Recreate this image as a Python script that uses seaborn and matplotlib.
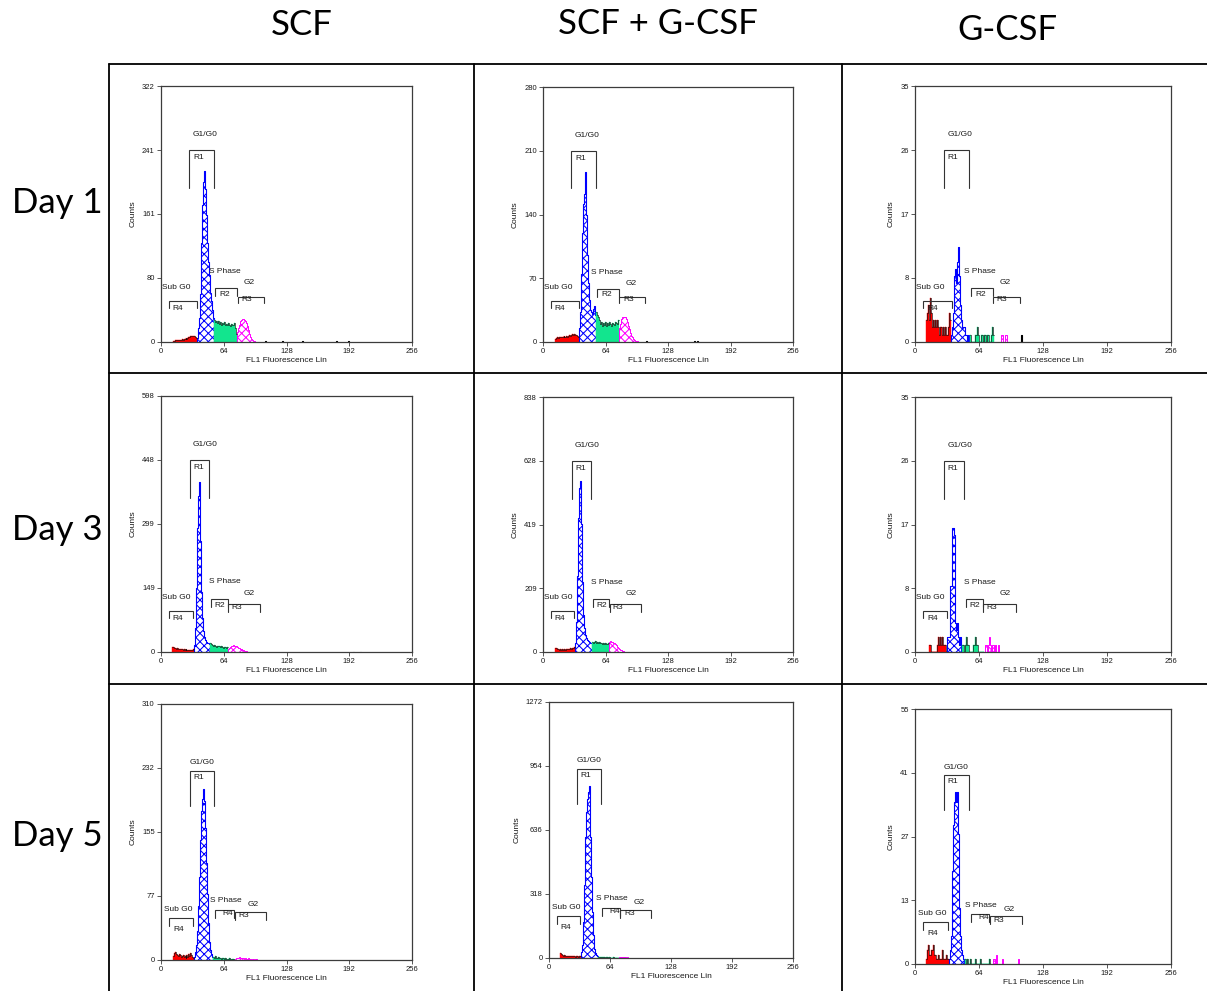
import numpy as np
import pandas as pd
import matplotlib
matplotlib.use("Agg")
import matplotlib.pyplot as plt
import matplotlib.transforms as mtransforms
from matplotlib.lines import Line2D
import seaborn as sns

# ---------------------------------------------------------------- data
treatments = ["SCF", "SCF + G-CSF", "G-CSF"]
days = ["Day 1", "Day 3", "Day 5"]
x_ticks = [0, 64, 128, 192, 256]

# full-scale count per panel (rows: days, columns: treatments)
y_max = [[322, 280, 35],
         [598, 838, 35],
         [310, 1272, 55]]
y_tick_labels = [[[0, 80, 161, 241, 322], [0, 70, 140, 210, 280], [0, 8, 17, 26, 35]],
                 [[0, 149, 299, 448, 598], [0, 209, 419, 628, 838], [0, 8, 17, 26, 35]],
                 [[0, 77, 155, 232, 310], [0, 318, 636, 954, 1272], [0, 13, 27, 41, 55]]]

# FL1 channel histograms: first channel, counts per channel,
# region edges [G1/G0 start, S start, G2 start, G2 end], stray events
start_d1_scf = 12
counts_d1_scf = [1, 1, 2, 2, 2, 3, 2, 3, 3, 4, 3, 4, 4, 5, 4, 5, 6, 6, 7, 7, 8, 8, 7, 6, 5,
                 5, 18, 30, 60, 125, 172, 201, 215, 193, 160, 125, 100, 84, 62, 52, 40, 30,
                 28, 25, 27, 24, 26, 23, 25, 22, 24, 23, 25, 22, 23, 21, 24, 22, 20, 23, 21, 22, 24, 18, 14, 10,
                 12, 17, 22, 26, 28, 29, 29, 28, 27, 24, 20, 15, 10, 6, 4, 2, 1, 1]
edges_d1_scf = [37, 54, 78, 100]
stray_d1_scf = [106, 123, 144, 178, 191]

start_d1_combo = 12
counts_d1_combo = [3, 4, 5, 4, 5, 6, 5, 6, 6, 7, 5, 6, 7, 6, 7, 8, 7, 8, 9, 8, 9, 8, 8, 7, 6,
                   15, 33, 75, 120, 152, 162, 187, 140, 95, 65, 46, 35, 33, 31, 36, 40, 30,
                   33, 30, 27, 24, 20, 22, 18, 21, 19, 22, 20, 18, 21, 19, 22, 20, 18, 21, 20, 19, 22, 21, 20, 24,
                   15, 20, 25, 27, 28, 28, 27, 25, 22, 18, 14, 10, 7, 5, 3, 2, 1, 1, 1]
edges_d1_combo = [37, 54, 78, 100]
stray_d1_combo = [105, 155, 158]

start_d1_gcsf = 11
counts_d1_gcsf = [3, 4, 5, 3, 6, 4, 2, 3, 2, 3, 2, 3, 2, 1, 2, 2, 1, 2, 1, 2, 1, 1, 2, 4, 3,
                  1, 2, 4, 9, 10, 8, 11, 13, 9, 5, 3, 2, 2, 2, 1, 1, 0, 1, 0,
                  1, 0, 0, 0, 0, 1, 1, 2, 1, 0, 0, 1, 1, 0, 1, 1, 0, 1, 1, 0, 0, 1, 2, 1,
                  0, 0, 0, 0, 0, 0, 0, 1, 1, 0, 0, 1, 1, 0, 0, 0, 0]
edges_d1_gcsf = [36, 55, 79, 100]
stray_d1_gcsf = [106]

start_d3_scf = 11
counts_d3_scf = [12, 11, 10, 9, 8, 9, 7, 8, 6, 7, 6, 5, 6, 5, 6, 4, 5, 4, 5, 4, 5, 5, 6,
                 17, 56, 150, 290, 365, 398, 260, 140, 80, 50, 36, 28, 24, 22, 20, 18,
                 20, 18, 16, 15, 17, 14, 12, 15, 13, 14, 11, 13, 12, 10, 12, 11, 10, 12,
                 8, 10, 12, 14, 15, 16, 15, 14, 14, 13, 12, 10, 9, 7, 6, 5, 4, 3, 2, 2, 1]
edges_d3_scf = [34, 50, 68, 100]
stray_d3_scf = [196, 203]

start_d3_combo = 12
counts_d3_combo = [14, 12, 10, 9, 8, 9, 8, 9, 8, 10, 9, 8, 10, 9, 11, 10, 12, 11, 13, 14, 16,
                   30, 100, 250, 440, 540, 562, 420, 230, 120, 80, 55, 46, 40, 36, 33, 30, 28,
                   32, 30, 33, 35, 31, 34, 30, 32, 28, 31, 27, 30, 26, 29, 25, 27, 26, 30,
                   33, 35, 34, 33, 30, 28, 25, 22, 18, 14, 10, 7, 5, 3, 2, 1]
edges_d3_combo = [33, 50, 68, 100]
stray_d3_combo = []

start_d3_gcsf = 14
counts_d3_gcsf = [1, 1, 0, 0, 0, 0, 0, 0, 1, 2, 1, 2, 1, 2, 1, 1, 1, 0,
                  2, 2, 2, 9, 9, 17, 17, 16, 4, 3, 4, 2, 1, 2, 0,
                  1, 1, 0, 1, 2, 1, 1, 0, 0, 0, 0, 1, 1, 2, 1, 1, 0, 0, 0, 0, 0, 0,
                  0, 1, 1, 0, 1, 2, 1, 0, 1, 1, 0, 1, 0, 0, 1]
edges_d3_gcsf = [32, 47, 69, 100]
stray_d3_gcsf = []

start_d5_scf = 12
counts_d5_scf = [5, 8, 10, 7, 6, 5, 7, 6, 4, 5, 6, 4, 5, 3, 6, 4, 7, 5, 8, 6, 4, 3,
                 4, 10, 18, 35, 65, 100, 145, 180, 195, 207, 192, 160, 118, 80, 45, 22, 12, 7, 4,
                 4, 3, 5, 3, 2, 4, 3, 2, 1, 3, 2, 1, 2, 1, 0, 1, 2, 1, 0, 1, 1, 0,
                 1, 2, 3, 2, 3, 4, 3, 2, 3, 2, 1, 2, 1, 1, 2, 1, 1, 0, 1, 1, 0, 1, 1]
edges_d5_scf = [34, 53, 75, 107]
stray_d5_scf = []

start_d5_combo = 12
counts_d5_combo = [25, 18, 15, 12, 14, 10, 12, 9, 11, 10, 8, 9, 10, 8, 9, 7, 8, 9, 7, 8, 10, 12,
                   30, 63, 179, 361, 600, 725, 790, 825, 855, 600, 400, 229, 113, 46, 25, 15, 10,
                   6, 5, 7, 4, 5, 3, 4, 3, 2, 4, 3, 2, 3, 2, 1, 2, 3, 2, 1, 2, 1, 2,
                   3, 4, 5, 4, 3, 5, 4, 3, 2, 3, 2, 1, 2, 1, 1, 1]
edges_d5_combo = [34, 51, 73, 107]
stray_d5_combo = []

start_d5_gcsf = 11
counts_d5_gcsf = [1, 3, 4, 2, 2, 3, 3, 4, 2, 2, 1, 1, 2, 1, 1, 1, 3, 1, 1, 1, 2, 1, 1,
                  1, 3, 6, 20, 30, 35, 37, 35, 37, 28, 12, 6, 3, 2, 1, 0,
                  1, 0, 1, 0, 0, 1, 0, 0, 0, 0, 1, 0, 0, 0, 0, 1, 0, 0, 0, 0, 0, 0, 0, 0, 1, 0,
                  0, 0, 1, 1, 0, 2, 0, 0, 0, 0, 0, 1, 0, 0, 0, 0, 0, 0, 0, 0, 0, 0, 0, 0, 0, 0, 0, 1]
edges_d5_gcsf = [34, 50, 76, 104]
stray_d5_gcsf = []

panels = [[(start_d1_scf, counts_d1_scf, edges_d1_scf, stray_d1_scf),
           (start_d1_combo, counts_d1_combo, edges_d1_combo, stray_d1_combo),
           (start_d1_gcsf, counts_d1_gcsf, edges_d1_gcsf, stray_d1_gcsf)],
          [(start_d3_scf, counts_d3_scf, edges_d3_scf, stray_d3_scf),
           (start_d3_combo, counts_d3_combo, edges_d3_combo, stray_d3_combo),
           (start_d3_gcsf, counts_d3_gcsf, edges_d3_gcsf, stray_d3_gcsf)],
          [(start_d5_scf, counts_d5_scf, edges_d5_scf, stray_d5_scf),
           (start_d5_combo, counts_d5_combo, edges_d5_combo, stray_d5_combo),
           (start_d5_gcsf, counts_d5_gcsf, edges_d5_gcsf, stray_d5_gcsf)]]

# gate markers per day row: (name, x0, x1, top, leg, label x, label y)
gates_row = [
    [("R4", 8.3, 37.0, 0.161, 0.133, 12.0, 0.130),
     ("R1", 29.0, 54.0, 0.749, 0.603, 32.7, 0.721),
     ("R2", 55.5, 77.8, 0.209, 0.178, 60.0, 0.185),
     ("R3", 78.2, 104.6, 0.177, 0.154, 81.8, 0.166)],
    [("R4", 8.3, 32.2, 0.161, 0.133, 12.0, 0.130),
     ("R1", 29.2, 49.0, 0.750, 0.600, 32.7, 0.721),
     ("R2", 50.7, 68.0, 0.208, 0.176, 54.7, 0.183),
     ("R3", 68.2, 100.5, 0.187, 0.156, 71.5, 0.173)],
    [("R4", 8.4, 32.6, 0.164, 0.134, 12.2, 0.121),
     ("R1", 29.2, 54.2, 0.740, 0.603, 32.8, 0.714),
     ("R4", 55.5, 74.2, 0.196, 0.166, 63.0, 0.183),
     ("R3", 75.0, 106.6, 0.187, 0.158, 78.7, 0.172)],
]
# phase names per day row: (text, x, y)
phase_row = [
    [("Sub G0", 1.0, 0.213), ("G1/G0", 32.5, 0.810), ("S Phase", 49.2, 0.274), ("G2", 84.3, 0.231)],
    [("Sub G0", 1.0, 0.213), ("G1/G0", 32.5, 0.810), ("S Phase", 49.1, 0.274), ("G2", 84.3, 0.230)],
    [("Sub G0", 2.7, 0.198), ("G1/G0", 29.0, 0.772), ("S Phase", 49.7, 0.231), ("G2", 88.5, 0.215)],
]

# ---------------------------------------------------------------- style
sns.set_theme(style="white")
plt.rcParams["font.family"] = ["Liberation Sans", "DejaVu Sans"]
plt.rcParams["hatch.linewidth"] = 0.75

W, H = 1207, 991
fig = plt.figure(figsize=(W / 100, H / 100), dpi=100)
fig.patch.set_facecolor("white")

# axes boxes in pixels: left, top, right, bottom
boxes = [[(161, 86, 412, 342), (543, 87, 793, 342), (915, 86, 1171, 342)],
         [(161, 396, 412, 652), (543, 397, 793, 652), (915, 397, 1171, 652)],
         [(161, 704, 412, 960), (549, 702, 793, 958), (915, 709, 1171, 964)]]

# fill style and outline colour for Sub G0, G1/G0, S and G2
phase_fill = [
    dict(color="#ff0000", facecolor="#ff0000", edgecolor="#ff0000", linewidth=0.3),
    dict(color="#0000ff", facecolor="white", edgecolor="#0000ff", linewidth=0.8, hatch="xxxx"),
    dict(color="#12e58e", facecolor="#12e58e", edgecolor="#12e58e", linewidth=0.3),
    dict(color="#ff00ff", facecolor="white", edgecolor="#ff00ff", linewidth=0.7, hatch="xxxx"),
]
phase_outline = ["#111111", None, "#111111", None]

text_color = "#1a1a1a"
frame_color = "#3c3c3c"


def draw_phase(ax, ch, cnt, lo, hi, style, outline):
    m = (ch >= lo) & (ch < hi)
    if not m.any() or cnt[m].sum() == 0:
        return
    frame = pd.DataFrame({"channel": ch[m] + 0.5, "events": cnt[m]})
    first, last = int(ch[m][0]), int(ch[m][-1]) + 1
    bins = list(range(first, last + 1))
    sns.histplot(data=frame, x="channel", weights="events", bins=bins,
                 element="step", fill=True, alpha=1, ax=ax, **style)
    if outline is not None:
        sns.histplot(data=frame, x="channel", weights="events", bins=bins,
                     element="step", fill=False, color=outline, linewidth=0.45, ax=ax)


for r in range(3):
    for c in range(3):
        l, t, rr, b = boxes[r][c]
        ax = fig.add_axes([l / W, 1 - b / H, (rr - l) / W, (b - t) / H])
        start, counts, edges, stray = panels[r][c]
        cnt = np.asarray(counts, dtype=float)
        ch = np.arange(start, start + len(cnt))
        bounds = [0] + list(edges)
        for i in range(4):
            draw_phase(ax, ch, cnt, bounds[i], bounds[i + 1], phase_fill[i], phase_outline[i])
        for s in stray:
            sns.histplot(x=[s + 0.5], bins=[s, s + 1], element="step", fill=True,
                         color="black", facecolor="black", edgecolor="black",
                         linewidth=0.8, alpha=1, ax=ax)

        ymax = y_max[r][c]
        ax.set_xlim(0, 256)
        ax.set_ylim(0, ymax)
        ax.set_xticks(x_ticks)
        ax.set_xticklabels([str(v) for v in x_ticks])
        ax.set_yticks([ymax * k / 4 for k in range(5)])
        ax.set_yticklabels([str(v) for v in y_tick_labels[r][c]])
        ax.tick_params(axis="both", direction="out", length=3, width=0.6,
                       labelsize=5.5, pad=1.5, colors=frame_color, labelcolor=text_color)
        ax.tick_params(axis="both", left=True, bottom=True)
        for sp in ax.spines.values():
            sp.set_visible(True)
            sp.set_color(frame_color)
            sp.set_linewidth(0.9)
        ax.set_xlabel("FL1 Fluorescence Lin", fontsize=6, labelpad=1.5, color=text_color)
        ax.set_ylabel("Counts", fontsize=6, labelpad=4, color=text_color)
        ax.set_facecolor("white")

        trans = mtransforms.blended_transform_factory(ax.transData, ax.transAxes)
        for name, x0, x1, top, leg, lx, ly in gates_row[r]:
            ax.plot([x0, x0, x1, x1], [leg, top, top, leg], color="#333333",
                    lw=0.8, transform=trans, clip_on=False, solid_joinstyle="miter")
            ax.text(lx, ly, name, transform=trans, fontsize=6, color=text_color,
                    ha="left", va="center")
        for name, lx, ly in phase_row[r]:
            ax.text(lx, ly, name, transform=trans, fontsize=6, color=text_color,
                    ha="left", va="center")


# table rules
def rule(x0, y0, x1, y1):
    fig.add_artist(Line2D([x0 / W, x1 / W], [1 - y0 / H, 1 - y1 / H],
                          transform=fig.transFigure, color="black", lw=1.3))


rule(109, 64, 1207, 64)
rule(109, 373, 1207, 373)
rule(109, 684, 1207, 684)
rule(109, 64, 109, 991)
rule(474, 64, 474, 991)
rule(841.5, 64, 841.5, 991)

# column and row headings
for x, y, name in zip([302, 658, 1007], [25, 24, 30], treatments):
    fig.text(x / W, 1 - y / H, name, fontsize=25, family=["Lato", "DejaVu Sans"],
             ha="center", va="center", color="black")
for y, name in zip([203, 530, 836], days):
    fig.text(12 / W, 1 - y / H, name, fontsize=25, family=["Lato", "DejaVu Sans"],
             ha="left", va="center", color="black")

fig.savefig("out.png", dpi=100, facecolor="white")
